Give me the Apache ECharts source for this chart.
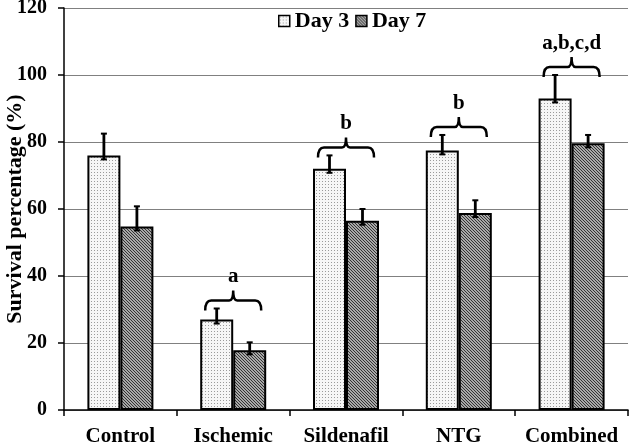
<!DOCTYPE html>
<html>
<head>
<meta charset="utf-8">
<script src="https://cdn.jsdelivr.net/npm/echarts@6/dist/echarts.min.js"></script>
<style>html,body{margin:0;padding:0;background:#fff}#c{width:630px;height:445px}</style>
</head>
<body>
<div id="c"></div>
<script>
const categories = ['Control', 'Ischemic', 'Sildenafil', 'NTG', 'Combined'];
const day3 = [76, 27, 72, 77.5, 93];
const day3Err = [6.5, 3.3, 4, 4.6, 7];
const day7 = [54.8, 17.8, 56.5, 58.8, 79.6];
const day7Err = [6, 2.4, 3.5, 3.8, 2.5];
const sigLabels = ['', 'a', 'b', 'b', 'a,b,c,d'];
const yTicks = [0, 20, 40, 60, 80, 100, 120];

const FONT = '"Liberation Serif", "Times New Roman", serif';

function makeDots() {
  const c = document.createElement('canvas');
  c.width = 3; c.height = 3;
  const g = c.getContext('2d');
  g.fillStyle = '#f6f6f6'; g.fillRect(0, 0, 3, 3);
  g.fillStyle = '#9a9a9a'; g.fillRect(1, 1, 1, 1);
  return c;
}
function makeHatch() {
  const c = document.createElement('canvas');
  c.width = 3; c.height = 3;
  const g = c.getContext('2d');
  g.fillStyle = '#a8a8a8'; g.fillRect(0, 0, 3, 3);
  g.fillStyle = '#333333';
  for (let i = 0; i < 3; i++) g.fillRect(i, i, 1, 1);
  return c;
}
const dotPattern = { image: makeDots(), repeat: 'repeat' };
const hatchPattern = { image: makeHatch(), repeat: 'repeat' };

const BAR_W = 33;
const errData = [];
categories.forEach((c, i) => {
  errData.push([i, 0, day3[i], day3Err[i]]);
  errData.push([i, 1, day7[i], day7Err[i]]);
});
const sigData = categories.map((c, i) => [i, Math.max(day3[i] + day3Err[i], day7[i] + day7Err[i]), sigLabels[i]])
  .filter(d => d[2] !== '');

const chart = echarts.init(document.getElementById('c'), null, { renderer: 'canvas' });
chart.setOption({
  animation: false,
  backgroundColor: '#fff',
  grid: { left: 64, right: 2, top: 8, bottom: 35, containLabel: false, outerBoundsMode: 'none' },
  legend: {
    left: 278, top: 10, padding: 0,
    itemWidth: 11, itemHeight: 11, itemGap: 6,
    textStyle: { fontFamily: FONT, fontWeight: 'bold', fontSize: 22, color: '#000' },
    data: [
      { name: 'Day 3', icon: 'rect', itemStyle: { color: dotPattern, borderColor: '#000', borderWidth: 1.5 } },
      { name: 'Day 7', icon: 'rect', itemStyle: { color: hatchPattern, borderColor: '#000', borderWidth: 1.5 } }
    ]
  },
  xAxis: {
    type: 'category',
    data: categories,
    axisLine: { lineStyle: { color: '#000', width: 1.5 } },
    axisTick: { show: true, length: 6, lineStyle: { color: '#000', width: 1.5 } },
    axisLabel: { interval: 0, hideOverlap: false, margin: 16, fontFamily: FONT, fontWeight: 'bold', fontSize: 21, color: '#000' }
  },
  yAxis: {
    type: 'value',
    min: 0, max: 120, interval: 20,
    name: 'Survival percentage (%)',
    nameLocation: 'middle',
    nameGap: 38,
    nameMoveOverlap: false,
    nameTextStyle: { fontFamily: FONT, fontWeight: 'bold', fontSize: 22, color: '#000' },
    axisLine: { show: true, lineStyle: { color: '#000', width: 1.5 } },
    axisTick: { show: true, length: 6, lineStyle: { color: '#000', width: 1.5 } },
    axisLabel: {
      margin: 17, fontFamily: FONT, fontWeight: 'bold', fontSize: 20, color: '#000',
      formatter: v => (yTicks.indexOf(v) >= 0 ? String(v) : '')
    },
    splitLine: { show: true, lineStyle: { color: '#808080', width: 1 } }
  },
  series: [
    {
      name: 'Day 3', type: 'bar', data: day3, barWidth: BAR_W, barGap: '0%',
      itemStyle: { color: dotPattern, borderColor: '#000', borderWidth: 2 }
    },
    {
      name: 'Day 7', type: 'bar', data: day7, barWidth: BAR_W, barGap: '0%',
      itemStyle: { color: hatchPattern, borderColor: '#000', borderWidth: 2 }
    },
    {
      type: 'custom', z: 10, silent: true,
      data: errData,
      encode: { x: 0, y: 2 },
      renderItem: function (params, api) {
        const cat = api.value(0), s = api.value(1), v = api.value(2), e = api.value(3);
        const p0 = api.coord([cat, v]);
        const p1 = api.coord([cat, v + e]);
        const x = p0[0] + (s === 0 ? -BAR_W / 2 : BAR_W / 2);
        const yb = p0[1] + 4, yt = p1[1];
        return {
          type: 'group',
          children: [
            { type: 'line', shape: { x1: x, y1: yb, x2: x, y2: yt }, style: { stroke: '#000', lineWidth: 2.8 } },
            { type: 'line', shape: { x1: x - 3, y1: yt, x2: x + 3, y2: yt }, style: { stroke: '#000', lineWidth: 2 } },
            { type: 'line', shape: { x1: x - 3, y1: yb, x2: x + 3, y2: yb }, style: { stroke: '#000', lineWidth: 2 } }
          ]
        };
      }
    },
    {
      type: 'custom', z: 11, silent: true,
      data: sigData,
      encode: { x: 0, y: 1 },
      renderItem: function (params, api) {
        const cat = api.value(0), top = api.value(1);
        const label = sigData[params.dataIndex][2];
        const p = api.coord([cat, top]);
        const x = p[0], y = p[1] - 8;
        const w = 28, h = 10;
        const path = 'M' + (x - w) + ' ' + (y + h) +
          ' Q' + (x - w) + ' ' + y + ' ' + (x - w + 6) + ' ' + y +
          ' L' + (x - 4) + ' ' + y +
          ' Q' + x + ' ' + y + ' ' + x + ' ' + (y - h) +
          ' Q' + x + ' ' + y + ' ' + (x + 4) + ' ' + y +
          ' L' + (x + w - 6) + ' ' + y +
          ' Q' + (x + w) + ' ' + y + ' ' + (x + w) + ' ' + (y + h);
        return {
          type: 'group',
          children: [
            { type: 'path', shape: { pathData: path }, style: { stroke: '#000', lineWidth: 2.5, fill: null } },
            {
              type: 'text',
              style: {
                x: x, y: y - h - 3, text: label, align: 'center', verticalAlign: 'bottom',
                font: 'bold 21px ' + FONT, fill: '#000'
              }
            }
          ]
        };
      }
    }
  ]
});
</script>
</body>
</html>
